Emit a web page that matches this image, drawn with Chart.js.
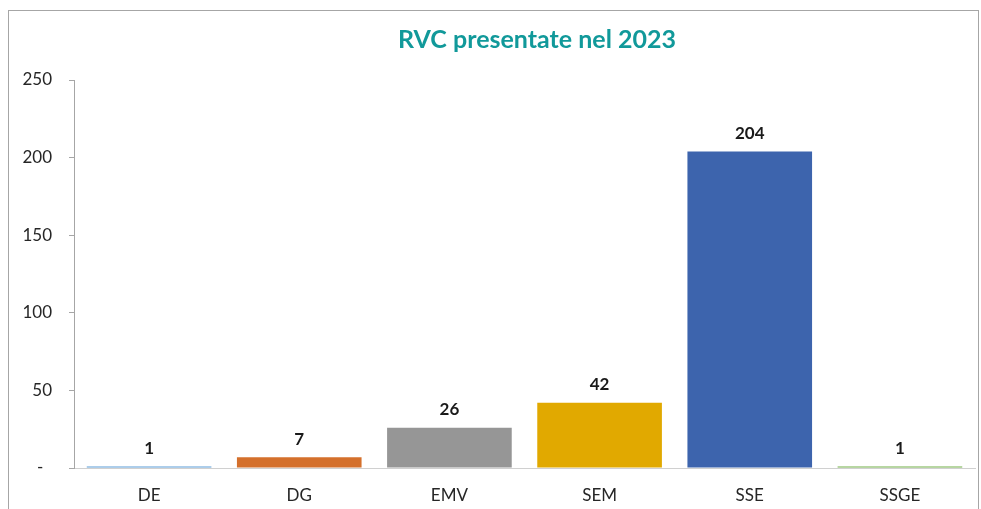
<!DOCTYPE html>
<html>
<head>
<meta charset="utf-8">
<script src="https://cdn.jsdelivr.net/npm/chart.js@4.4.0/dist/chart.umd.min.js"></script>
<style>
  html, body { margin: 0; padding: 0; background: #ffffff; }
  #wrap { position: relative; width: 981px; height: 509px; overflow: hidden; }
  #frame { position: absolute; left: 8px; top: 10px; width: 971px; height: 520px; border: 1px solid #a6a6a6; box-sizing: border-box; }
  #c { position: absolute; left: 0; top: 0; }
</style>
</head>
<body>
<div id="wrap">
  <div id="frame"></div>
  <canvas id="c" width="981" height="509"></canvas>
</div>
<script>
const titleText = 'RVC presentate nel 2023';
const categories = ['DE', 'DG', 'EMV', 'SEM', 'SSE', 'SSGE'];
const values = [1, 7, 26, 42, 204, 1];
const barColors = ['#5B9BD5', '#D4702C', '#969696', '#E1A900', '#3D64AD', '#70AD47'];
const yTicks = [0, 50, 100, 150, 200, 250];

const FONT = 'Lato, "Noto Sans", sans-serif';

const titlePlugin = {
  id: 'customTitle',
  afterDraw(chart) {
    const ctx = chart.ctx;
    ctx.save();
    ctx.font = 'bold 25px ' + FONT;
    ctx.fillStyle = '#11999A';
    ctx.textAlign = 'center';
    ctx.textBaseline = 'middle';
    ctx.fillText(titleText, 537, 40);
    ctx.restore();
  }
};

const labelPlugin = {
  id: 'valueLabels',
  afterDatasetsDraw(chart) {
    const ctx = chart.ctx;
    const meta = chart.getDatasetMeta(0);
    ctx.save();
    ctx.font = 'bold 17px ' + FONT;
    ctx.fillStyle = '#1a1a1a';
    ctx.textAlign = 'center';
    ctx.textBaseline = 'middle';
    meta.data.forEach((bar, i) => {
      ctx.fillText(String(values[i]), bar.x, bar.y - 18);
    });
    ctx.restore();
  }
};

new Chart(document.getElementById('c'), {
  type: 'bar',
  data: {
    labels: categories,
    datasets: [{
      data: values,
      backgroundColor: barColors,
      borderWidth: 0,
      barPercentage: 0.83,
      categoryPercentage: 1.0
    }]
  },
  options: {
    responsive: false,
    animation: false,
    layout: { padding: { top: 80, right: 6, left: 0, bottom: 0 } },
    plugins: {
      legend: { display: false },
      title: { display: false },
      tooltip: { enabled: false }
    },
    scales: {
      x: {
        grid: { display: false, drawTicks: false },
        border: { display: true, color: '#d0d0d0', width: 1 },
        ticks: { font: { family: FONT, size: 17 }, color: '#262626', padding: 17 },
        afterFit(scale) { scale.height = 41; }
      },
      y: {
        min: 0,
        max: 250,
        afterBuildTicks(scale) { scale.ticks = yTicks.map(v => ({ value: v })); },
        grid: { drawOnChartArea: false, drawTicks: true, tickLength: 5, color: '#a6a6a6' },
        border: { display: true, color: '#a6a6a6', width: 1 },
        ticks: {
          font: { family: FONT, size: 17 },
          color: '#262626',
          padding: 17,
          callback: (v) => v === 0 ? '-  ' : String(v)
        },
        afterFit(scale) { scale.width = 74; }
      }
    }
  },
  plugins: [titlePlugin, labelPlugin]
});
</script>
</body>
</html>
